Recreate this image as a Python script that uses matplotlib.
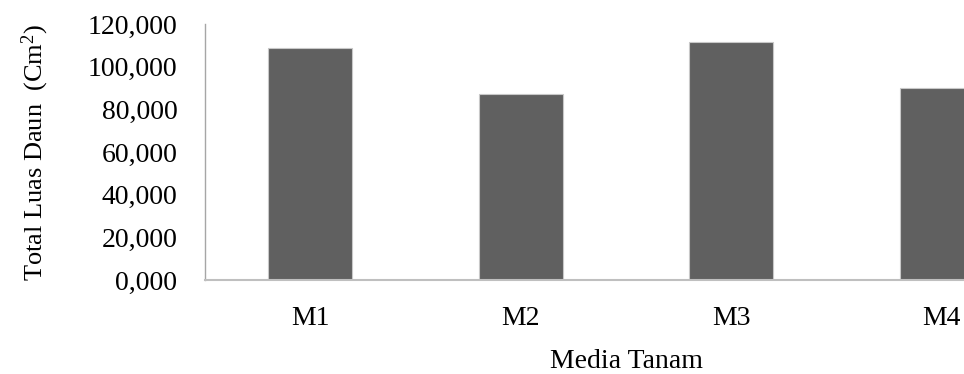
import matplotlib
matplotlib.use("Agg")
import matplotlib.pyplot as plt
from matplotlib.ticker import FuncFormatter

# data
categories = ["M1", "M2", "M3", "M4"]
luas_daun = [108.9, 87.2, 111.4, 89.8]
y_ticks = [0, 20, 40, 60, 80, 100, 120]

plt.rcParams["font.family"] = ["Liberation Serif", "DejaVu Serif"]
plt.rcParams["mathtext.fontset"] = "custom"
plt.rcParams["mathtext.rm"] = "Liberation Serif"
plt.rcParams["mathtext.it"] = "Liberation Serif:italic"

fig = plt.figure(figsize=(9.64, 3.74), dpi=100)
# axes runs past the right edge, the reference is cropped there
ax = fig.add_axes([0.2127, 0.2513, 0.8734, 0.6845])

x = range(len(categories))
ax.bar(x, luas_daun, width=0.4, color="#606060", edgecolor="#c8c8c8", linewidth=0.8)

ax.set_xlim(-0.5, len(categories) - 0.5)
ax.set_ylim(0, 120)
ax.set_yticks(y_ticks)
ax.yaxis.set_major_formatter(FuncFormatter(lambda v, p: f"{v:.3f}".replace(".", ",")))
ax.set_xticks(list(x))
ax.set_xticklabels(categories)

ax.tick_params(axis="y", length=0, pad=20, labelsize=20)
ax.tick_params(axis="x", length=0, pad=19, labelsize=20)

for side in ["top", "right"]:
    ax.spines[side].set_visible(False)
ax.spines["left"].set_color("#a6a6a6")
ax.spines["bottom"].set_color("#bfbfbf")
ax.spines["left"].set_linewidth(1.0)
ax.spines["bottom"].set_linewidth(1.5)

ax.set_ylabel("Total Luas Daun  (Cm$^2$)", fontsize=19, labelpad=26)
ax.set_xlabel("Media Tanam", fontsize=20, labelpad=13)

fig.savefig("out.png", dpi=100)
